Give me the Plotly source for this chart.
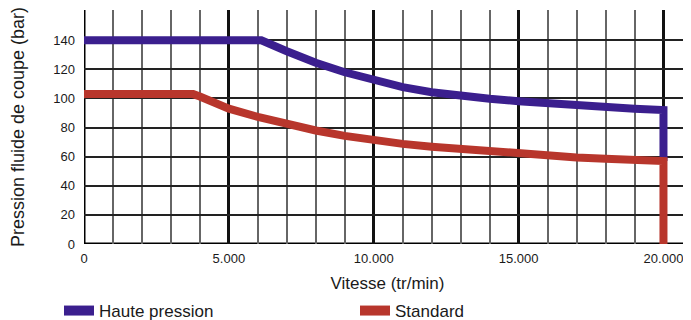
import plotly.graph_objects as go

# Data
speed_hp = [0, 6120, 7000, 8000, 9000, 10000, 11000, 12000, 13000, 14000, 15000, 16000, 17000, 18000, 19000, 20000, 20000]
press_hp = [140, 140, 132.5, 124.5, 118, 112.3, 107.8, 104.3, 101.6, 99.8, 98.1, 96.6, 95.3, 94.1, 93.0, 92.0, 57]

speed_std = [0, 3770, 4000, 5000, 6000, 7000, 8000, 9000, 10000, 11000, 12000, 13000, 14000, 15000, 16000, 17000, 18000, 19000, 20000, 20000]
press_std = [103, 103, 101.4, 93, 87.3, 82.3, 78, 74.3, 71.2, 68.8, 66.9, 65.2, 63.4, 61.9, 60.6, 59.5, 58.6, 57.8, 57.0, 0]

x_tickvals = [0, 5000, 10000, 15000, 20000]
x_ticktext = ["0", "5.000", "10.000", "15.000", "20.000"]
y_tickvals = [0, 20, 40, 60, 80, 100, 120, 140]

series_names = ["Haute pression", "Standard"]
colors = ["#3b1f8e", "#b8362c"]

FONT = "Liberation Sans Narrow, Liberation Sans, Arial, sans-serif"
TFONT = "Liberation Sans, Arial, sans-serif"

# The page has an 8px body margin, so the figure is drawn 8px smaller
W, H = 683, 312

fig = go.Figure()
fig.add_trace(go.Scatter(x=speed_hp, y=press_hp, mode="lines", showlegend=False,
                         line=dict(color=colors[0], width=8), hoverinfo="skip"))
fig.add_trace(go.Scatter(x=speed_std, y=press_std, mode="lines", showlegend=False,
                         line=dict(color=colors[1], width=8), hoverinfo="skip"))
# legend entries
for name, c in zip(series_names, colors):
    fig.add_trace(go.Scatter(x=[None], y=[None], mode="lines", name=name,
                             line=dict(color=c, width=12)))

fig.update_layout(
    width=W, height=H,
    margin=dict(l=76, r=0, t=2, b=76, autoexpand=False),
    paper_bgcolor="white", plot_bgcolor="white",
    font=dict(family=FONT, color="#222"),
    legend=dict(orientation="h", xref="container", yref="container",
                x=51/W, y=9/H, xanchor="left", yanchor="middle",
                font=dict(size=17, family=FONT, color="#1a1a1a"),
                entrywidth=251, entrywidthmode="pixels",
                itemclick=False, itemdoubleclick=False),
    xaxis=dict(range=[0, 20950], tickvals=x_tickvals, ticktext=x_ticktext,
               showgrid=True, gridcolor="#111", gridwidth=2.5,
               minor=dict(dtick=1000, tick0=0, showgrid=True, gridcolor="#666", gridwidth=1.5),
               showline=False, zeroline=False, ticks="", ticklabelstandoff=5,
               tickfont=dict(size=13, family=TFONT, color="#1a1a1a"),
               title=dict(text="Vitesse (tr/min)", font=dict(size=17, family=FONT, color="#1a1a1a"), standoff=13)),
    yaxis=dict(range=[0, 160.8], tickvals=y_tickvals,
               showgrid=True, gridcolor="#222", gridwidth=1.5,
               showline=False, zeroline=False, ticks="", ticklabelstandoff=8,
               tickfont=dict(size=13, family=TFONT, color="#1a1a1a"),
               title=dict(text="Pression fluide de coupe (bar)", font=dict(size=18, family=FONT, color="#1a1a1a"), standoff=24)),
)
# axis lines
fig.add_shape(type="line", xref="x", yref="paper", x0=0, x1=0, y0=0, y1=1,
              line=dict(color="#000", width=3), layer="below")
fig.add_shape(type="line", xref="paper", yref="y", x0=0, x1=1, y0=0, y1=0,
              line=dict(color="#000", width=3), layer="below")

fig.write_html("out.html")
